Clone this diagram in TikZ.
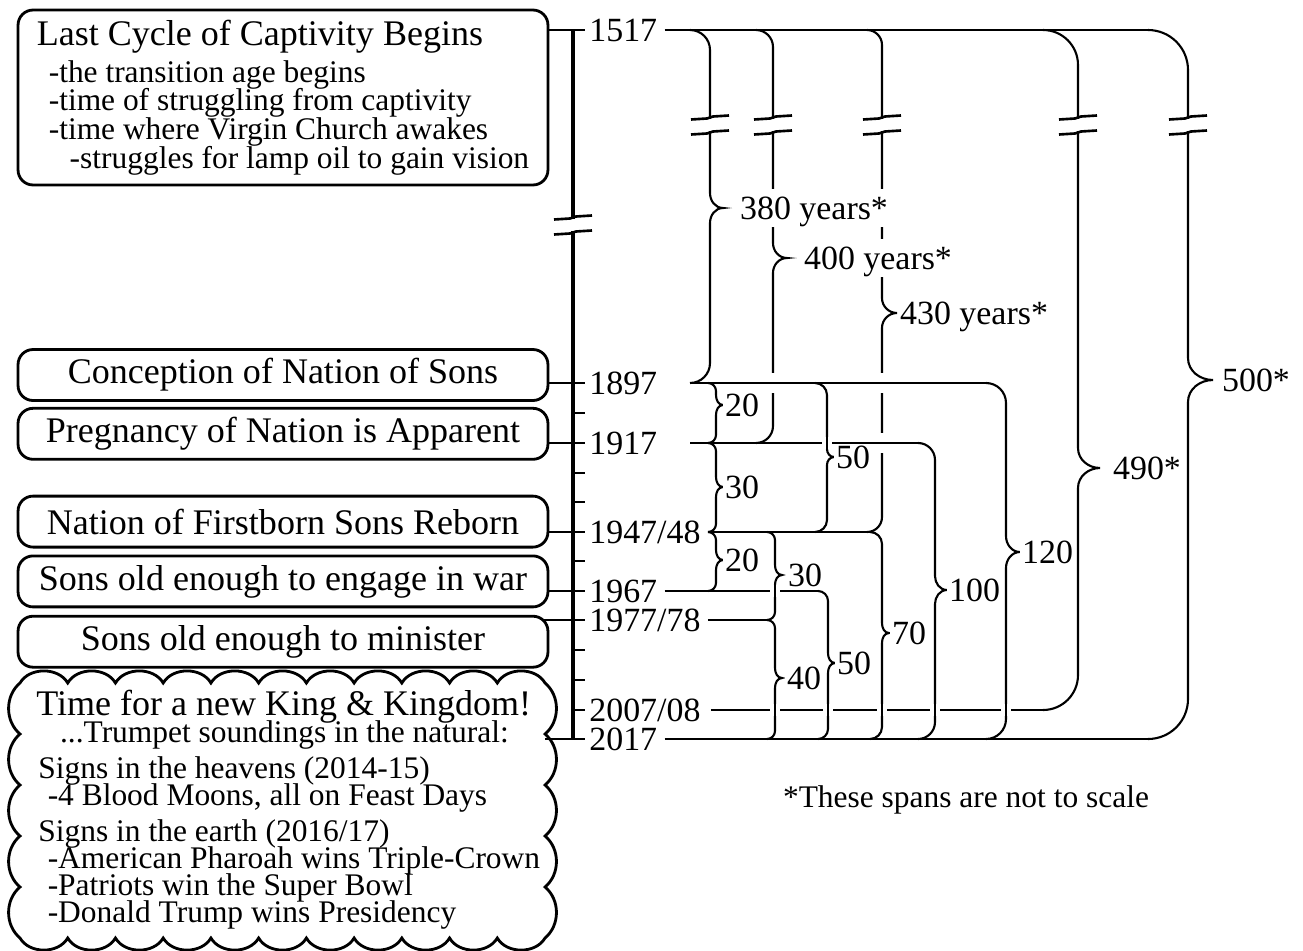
\documentclass[tikz,border=0pt]{standalone}
\usepackage{fontspec}
\setmainfont{Liberation Serif}
\usepackage{tikz}
\usetikzlibrary{positioning}

\newcommand{\bigfont}{\fontsize{20.5}{24}\selectfont}
\newcommand{\subfont}{\fontsize{17.9}{15.4}\selectfont\lineskiplimit=-20pt}
\newcommand{\numfont}{\fontsize{19.3}{22}\selectfont}

% bracket: name, column x, top y, bottom y, tip y (pixels, y counted downward)
\newcommand{\yearspan}[5]{%
  \draw[spanline] (#2-\crad,-#3) coordinate (#1top) to[out=0,in=90] (#2,-#3-\crad)
    -- (#2,-#5+\bhalf) to[out=-90,in=180] (#2+\bwid,-#5) coordinate (#1tip)
    to[out=180,in=90] (#2,-#5-\bhalf) -- (#2,-#4+\crad)
    to[out=-90,in=0] (#2-\crad,-#4) coordinate (#1bot);
  \coordinate (#1col) at (#2,-#3);
}
% "not to scale" break on a vertical line
\newcommand{\gapmark}[2]{%
  \fill[white] (#1-5,-#2-6) rectangle (#1+5,-#2+6);
  \draw[breakline] (#1-19,-#2+5.5) -- (#1-3,-#2+6.5) -- (#1+3,-#2+8.5) -- (#1+19,-#2+9.5);
  \draw[breakline] (#1-19,-#2-9.5) -- (#1-3,-#2-8.5) -- (#1+3,-#2-6.5) -- (#1+19,-#2-5.5);
}

\begin{document}
\begin{tikzpicture}[x=0.02cm, y=0.02cm]
\useasboundingbox (0,0) rectangle (1303,-951);
\tikzstyle{box} = [rectangle, draw, rounded corners=0.3cm, line width=1.6pt, minimum width=10.6cm, minimum height=1.02cm, font=\bigfont]
\tikzstyle{yearlab} = [font=\numfont, inner sep=0pt, text height=13.1pt, text depth=0pt]
\tikzstyle{spanlab} = [yearlab, fill=white, inner sep=1pt]
\tikzstyle{timeaxis} = [line width=2pt]
\tikzstyle{yeartick} = [line width=1.6pt]
\tikzstyle{link} = [line width=1.6pt]
\tikzstyle{yearline} = [line width=1.5pt]
\tikzstyle{spanline} = [line width=1.2pt]
\tikzstyle{breakline} = [line width=1.5pt]
\tikzstyle{cloudline} = [line width=1.6pt]
\tikzstyle{hopwide} = [preaction={draw=white, line width=0.4cm}]
\tikzstyle{hopnarrow} = [preaction={draw=white, line width=0.2cm}]

\node (cycle) [box, minimum height=3.5cm, align=left, font=\subfont] at (283,-97.5)
  {{\bigfont Last Cycle of Captivity Begins}\\[5.4pt]
   \hspace*{6.8pt}-the transition age begins\\[0.9pt]
   \hspace*{6.8pt}-time of struggling from captivity\\[0.9pt]
   \hspace*{6.8pt}-time where Virgin Church awakes\\[0.9pt]
   \hspace*{18.7pt}-struggles for lamp oil to gain vision};
\node (conception) [box] at (283,-375) {Conception of Nation of Sons};
\node (pregnancy) [box, below=0.1cm of conception] {Pregnancy of Nation is Apparent};
\node (reborn) [box, below=0.68cm of pregnancy] {Nation of Firstborn Sons Reborn};
\node (war) [box, below=0.12cm of reborn] {Sons old enough to engage in war};
\node (minister) [box, below=0.13cm of war] {Sons old enough to minister};

\foreach \yr/\py in {1517/30, 1897/383, 1907/413, 1917/443, 1927/473, 1937/502, 1947/532,
    1957/561, 1967/591, 1977/620, 1987/650, 1997/680, 2007/710, 2017/739}
  \coordinate (t\yr) at (573,-\py);
\draw[timeaxis] (t1517) -- (t2017);
\draw[yeartick] (t1517) -- ++(12,0);
\foreach \yr in {1897,1907,...,2017}
  \draw[yeartick] (t\yr) -- ++(12,0);

\node (lab1517) [yearlab, right=0.32cm of t1517] {1517};
\node (lab1897) [yearlab, right=0.32cm of t1897] {1897};
\node (lab1917) [yearlab, right=0.32cm of t1917] {1917};
\node (lab1947) [yearlab, right=0.32cm of t1947] {1947/48};
\node (lab1967) [yearlab, right=0.32cm of t1967] {1967};
\node (lab1977) [yearlab, right=0.32cm of t1977] {1977/78};
\node (lab2007) [yearlab, right=0.32cm of t2007] {2007/08};
\node (lab2017) [yearlab, right=0.32cm of t2017] {2017};

\draw[link] (cycle.east |- t1517) -- (t1517);
\draw[link] (conception.east |- t1897) -- (t1897);
\draw[link] (pregnancy.east |- t1917) -- (t1917);
\draw[link] (reborn.east |- t1947) -- (t1947);
\draw[link] (war.east |- t1967) -- (t1967);
\draw[link, shorten <=-0.12cm] (minister.east |- t1977) -- (t1977);

% spans
\def\crad{15}\def\bwid{15}\def\bhalf{15}
\yearspan{C}{882}{30}{532}{313}
\def\crad{17}\def\bwid{14}
\yearspan{B}{773}{30}{443}{258}
\def\crad{20}\def\bwid{13}
\yearspan{A}{710}{30}{383}{208}
\def\crad{35}\def\bwid{22}\def\bhalf{20}
\yearspan{D}{1078}{30}{710}{468}
\def\crad{40}\def\bwid{25}\def\bhalf{22}
\yearspan{E}{1188}{30}{739}{380}
\def\crad{8}\def\bwid{7}\def\bhalf{10}
\yearspan{F}{716}{383}{443}{405}
\yearspan{G}{716}{443}{532}{487}
\yearspan{H}{716}{532}{591}{560}
\yearspan{J}{775}{532}{620}{575}
\yearspan{K}{775}{620}{739}{678}
\def\crad{12}\def\bhalf{8}
\yearspan{I}{827}{383}{532}{457}
\def\crad{10}\def\bhalf{10}
\yearspan{L}{828}{591}{739}{663}
\def\crad{12}
\yearspan{M}{882}{532}{739}{633}
\def\crad{17}\def\bwid{12}\def\bhalf{14}
\yearspan{N}{935}{443}{739}{590}
\def\crad{20}\def\bwid{14}\def\bhalf{16}
\yearspan{O}{1006}{383}{739}{552}

\draw[yearline] ([xshift=0.14cm]lab1517.east) -- (Etop);
\draw[yearline] (Abot) -- (Otop);
\draw[yearline] (Abot |- t1917) -- (Ntop);
\draw[yearline] (Gbot) -- (Mtop);
\draw[yearline] ([xshift=0.14cm]lab1967.east) -- (Ltop);
\draw[yearline] ([xshift=0.14cm]lab1977.east) -- (Ktop);
\draw[yearline] ([xshift=0.2cm]lab2007.east) -- (Dbot);
\draw[yearline] ([xshift=0.14cm]lab2017.east) -- (Ebot);

\node (lbA) [spanlab, inner ysep=4pt, right=0.3cm of Atip] {380 years*};
\node (lbB) [spanlab, inner ysep=4pt, right=0.3cm of Btip] {400 years*};
\node (lbC) [spanlab, inner ysep=4pt, right=0.02cm of Ctip] {430 years*};
\node (lbD) [spanlab, right=0.22cm of Dtip] {490*};
\node (lbE) [spanlab, right=0.14cm of Etip] {500*};
\node (lbF) [spanlab, right=0cm of Ftip] {20};
\node (lbG) [spanlab, right=0cm of Gtip] {30};
\node (lbH) [spanlab, right=0cm of Htip] {20};
\node (lbI) [spanlab, right=0cm of Itip] {50};
\node (lbJ) [spanlab, right=0.08cm of Jtip] {30};
\node (lbK) [spanlab, right=0.06cm of Ktip] {40};
\node (lbL) [spanlab, right=0cm of Ltip] {50};
\node (lbM) [spanlab, right=0.02cm of Mtip] {70};
\node (lbN) [spanlab, right=0cm of Ntip] {100};
\node (lbO) [spanlab, right=0cm of Otip] {120};

% crossings
\coordinate (xa) at (Bcol |- Abot);
\coordinate (xb) at (Ccol |- Abot);
\coordinate (xc) at (Ccol |- t1917);
\draw[yearline, hopwide] ([xshift=-0.16cm]xa) -- ([xshift=0.16cm]xa);
\draw[yearline, hopwide] ([xshift=-0.16cm]xb) -- ([xshift=0.16cm]xb);
\draw[yearline, hopwide] ([xshift=-0.16cm]xc) -- ([xshift=0.16cm]xc);
\foreach \nm/\yr in {I/1917, J/1967, K/2007, L/2007, M/2007, N/2007, O/2007} {
  \coordinate (xx) at (\nm col |- t\yr);
  \draw[spanline, hopnarrow] ([yshift=-0.12cm]xx) -- ([yshift=0.12cm]xx);
}

\foreach \cx in {710,773,882,1078,1188} {\gapmark{\cx}{125}}
\gapmark{573}{225}

% cloud
\node (signs) [anchor=north west, inner sep=0pt, align=left, font=\subfont] at (36,-690)
  {{\bigfont Time for a new King \& Kingdom!}\\[-0.4pt]
   \hspace*{13.5pt}...Trumpet soundings in the natural:\\[5.2pt]
   \hspace*{1.2pt}Signs in the heavens (2014-15)\\
   \hspace*{6.5pt}-4 Blood Moons, all on Feast Days\\[5.2pt]
   \hspace*{1.2pt}Signs in the earth (2016/17)\\
   \hspace*{6.5pt}-American Pharoah wins Triple-Crown\\
   \hspace*{6.5pt}-Patriots win the Super Bowl\\
   \hspace*{6.5pt}-Donald Trump wins Presidency};
\draw[cloudline] (20,-683)
  foreach \i in {1,...,11} { to[out=60,in=120] ++(47.73,0) }
  foreach \i in {1,...,5} { to[out=-40,in=40] ++(0,-51) }
  foreach \i in {1,...,11} { to[out=-120,in=-60] ++(-47.73,0) }
  foreach \i in {1,...,5} { to[out=140,in=-140] ++(0,51) };
\coordinate (cloudport) at (545,-739);
\draw[link] (cloudport) -- (t2017);

\node (note) [font=\subfont] at (966,-800) {*These spans are not to scale};
\end{tikzpicture}
\end{document}
